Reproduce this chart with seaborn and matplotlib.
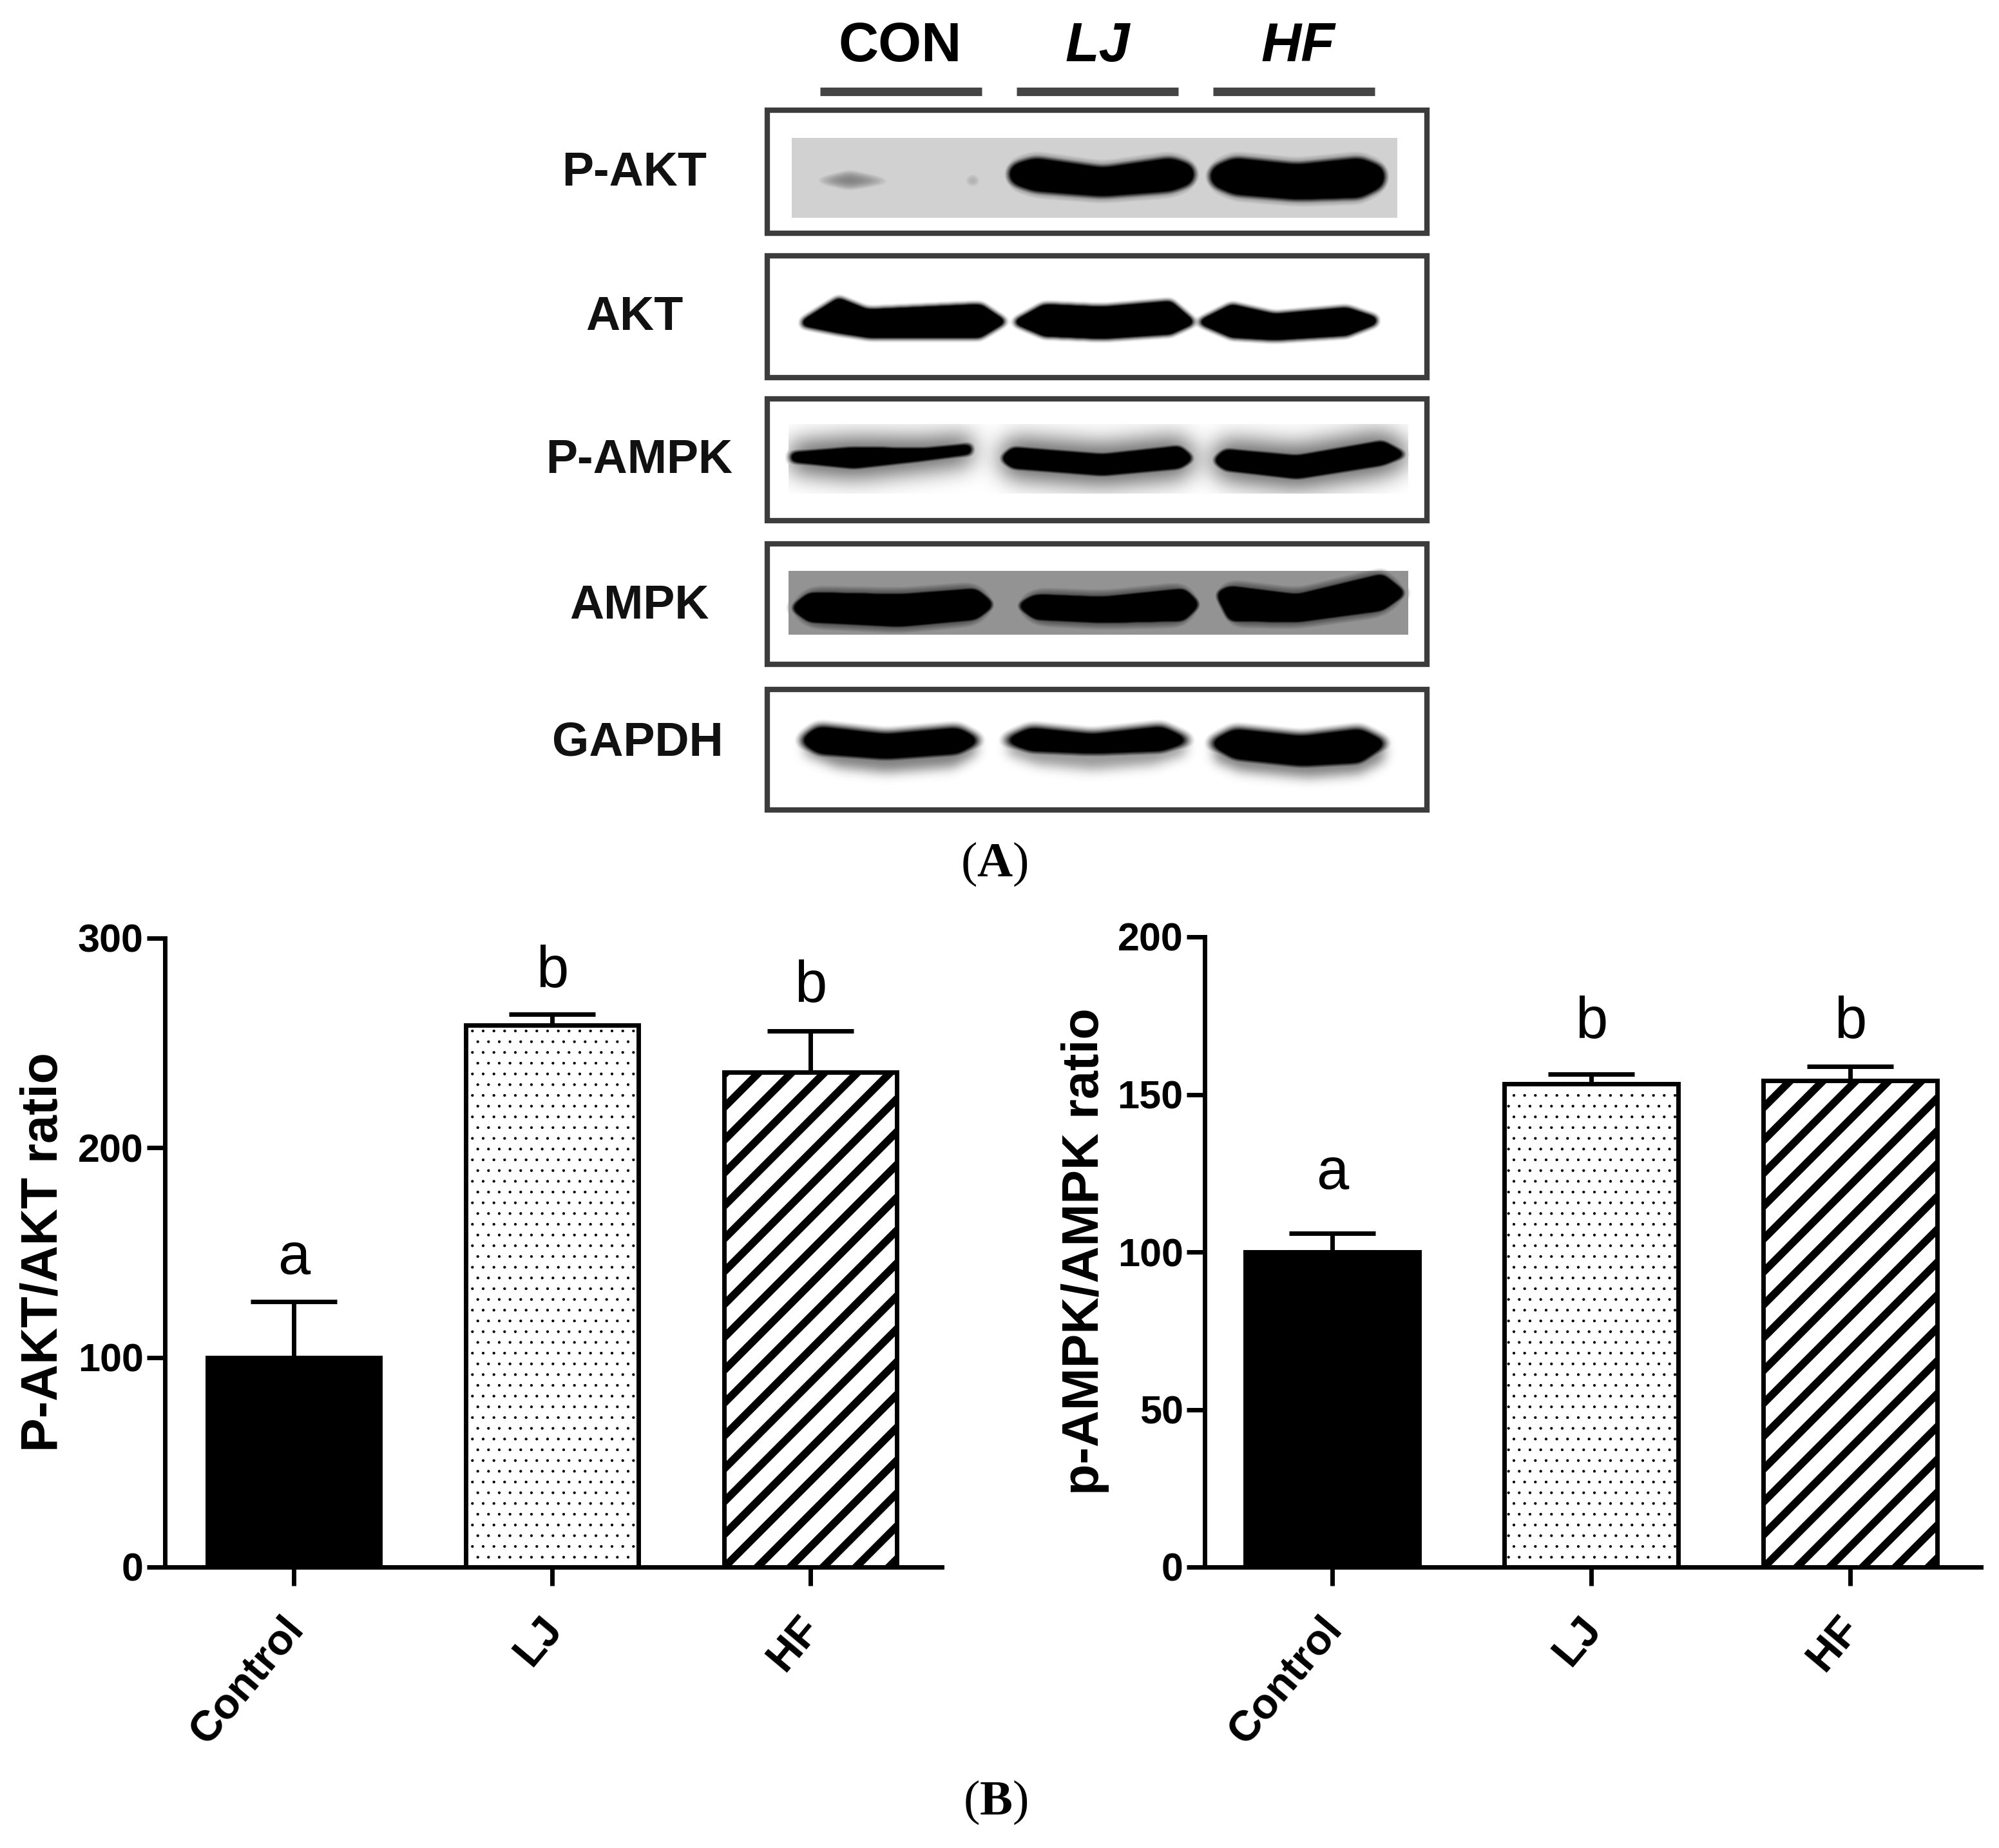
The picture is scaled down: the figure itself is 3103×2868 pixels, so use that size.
import numpy as np
import pandas as pd
import matplotlib
matplotlib.use('Agg')
import matplotlib.pyplot as plt
from matplotlib.patches import Rectangle
from matplotlib.lines import Line2D
from matplotlib.transforms import IdentityTransform, ScaledTranslation
import seaborn as sns

# Data
groups = ['Control', 'LJ', 'HF']
akt_ratio = [100, 258.5, 236]
akt_sem = [26.7, 5.3, 19.8]
ampk_ratio = [100, 153.3, 154.4]
ampk_sem = [6, 3.2, 4.4]
akt_letters = ['a', 'b', 'b']
ampk_letters = ['a', 'b', 'b']
akt_ticks = [0, 100, 200, 300]
ampk_ticks = [0, 50, 100, 150, 200]

# Blot band outlines (x, top, bottom, darkness)
pakt_faint = [
    ([1255, 1318, 1389], [280, 264, 280], [280, 294, 282], 0.42),
    ([1389, 1440, 1494], [280, 278, 278], [280, 284, 284], 0.10),
    ([1494, 1510, 1522], [280, 266, 278], [282, 292, 284], 0.34),
]
pakt_bands = [
    ([1564, 1572, 1606, 1711, 1817, 1848, 1855], [270, 255, 245, 260, 245, 255, 270], [270, 285, 296, 304, 296, 285, 270], 1),
    ([1876, 1884, 1915, 2013, 2111, 2144, 2150], [273, 258, 245, 255, 245, 258, 273], [273, 288, 301, 309, 306, 290, 273], 1),
]
akt_bands = [
    ([1245, 1301, 1346, 1522, 1560], [497, 462, 480, 472, 497], [505, 516, 523, 523, 500], 1),
    ([1575, 1620, 1711, 1817, 1852], [497, 472, 476, 467, 497], [502, 521, 525, 518, 502], 1),
    ([1862, 1911, 1978, 2090, 2136], [497, 472, 487, 477, 492], [502, 523, 527, 520, 502], 1),
]
pampk_bands = [
    ([1227, 1325, 1431, 1508], [702, 694, 696, 689], [716, 726, 714, 704], 1),
    ([1553, 1571, 1711, 1831, 1852], [710, 694, 705, 692, 710], [712, 726, 737, 726, 712], 1),
    ([1883, 1901, 2013, 2146, 2182], [713, 697, 707, 684, 704], [715, 729, 742, 721, 706], 1),
]
ampk_bands = [
    ([1227, 1255, 1396, 1515, 1543], [942, 919, 922, 913, 937], [944, 965, 972, 961, 939], 1),
    ([1578, 1606, 1711, 1838, 1862], [938, 922, 926, 913, 936], [940, 961, 966, 963, 938], 1),
    ([1887, 1908, 2013, 2146, 2182], [919, 909, 922, 890, 919], [921, 963, 965, 947, 921], 1),
]
gapdh_bands = [
    ([1241, 1269, 1375, 1487, 1522], [1148, 1127, 1139, 1129, 1148], [1150, 1169, 1177, 1169, 1150], 1),
    ([1556, 1599, 1696, 1803, 1848], [1148, 1129, 1139, 1127, 1148], [1150, 1165, 1169, 1165, 1150], 1),
    ([1876, 1915, 2020, 2111, 2153], [1152, 1131, 1142, 1131, 1152], [1154, 1177, 1188, 1183, 1154], 1),
]
gapdh_smear = [
    ([1250, 1300, 1375, 1480, 1515], [1150, 1150, 1150, 1150, 1150], [1170, 1190, 1198, 1190, 1170], 0.5),
    ([1565, 1610, 1696, 1790, 1840], [1150, 1150, 1150, 1150, 1150], [1170, 1186, 1194, 1186, 1170], 0.4),
    ([1885, 1925, 2030, 2110, 2148], [1150, 1150, 1150, 1150, 1150], [1180, 1196, 1206, 1200, 1180], 0.5),
]

blot_names = ['P-AKT', 'AKT', 'P-AMPK', 'AMPK', 'GAPDH']
lane_names = ['CON', 'LJ', 'HF']

# Layout, in pixels of the 3103x2868 figure
W, H = 3103, 2868
frames = [(171, 362), (397, 586), (619, 808), (844, 1031), (1070, 1257)]
frame_left, frame_right = 1191, 2215
name_xy = [(985, 268), (985, 493), (992, 715), (992, 941), (990, 1153)]
lane_spans = [(1273, 1524), (1578, 1829), (1883, 2134)]
lane_text_x = [1397, 1704, 2015]
akt_letter_y = [140, 277, 270]
ampk_letter_y = [120, 168, 168]

sns.set_style('ticks')
plt.rcParams['font.family'] = 'Liberation Sans'
plt.rcParams['text.color'] = 'black'
plt.rcParams['axes.edgecolor'] = 'black'
plt.rcParams['xtick.color'] = 'black'
plt.rcParams['ytick.color'] = 'black'
plt.rcParams['hatch.linewidth'] = 0.6
plt.rcParams['mathtext.fontset'] = 'custom'
plt.rcParams['mathtext.rm'] = 'Liberation Serif'
plt.rcParams['mathtext.bf'] = 'Liberation Serif:bold'

fig = plt.figure(figsize=(W / 100, H / 100), dpi=100)
fig.patch.set_facecolor('white')


def blur(img, sigma):
    r = int(sigma * 3)
    k = np.exp(-0.5 * (np.arange(-r, r + 1) / sigma) ** 2)
    k /= k.sum()
    pad = np.pad(img, r, mode='edge')
    pad = np.apply_along_axis(lambda v: np.convolve(v, k, mode='same'), 0, pad)
    pad = np.apply_along_axis(lambda v: np.convolve(v, k, mode='same'), 1, pad)
    return pad[r:-r, r:-r]


# Raster canvas for the blots
x0, x1, y0, y1 = 1200, 2210, 180, 1250
X, Y = np.meshgrid(np.arange(x0, x1), np.arange(y0, y1))


def band_layer(bands, sigma, grow=0):
    layer = np.zeros(X.shape)
    for xs, top, bot, dark in bands:
        t = np.interp(X, xs, np.array(top) - grow)
        b = np.interp(X, xs, np.array(bot) + grow)
        inside = (X >= xs[0]) & (X <= xs[-1]) & (Y >= t) & (Y <= b)
        layer[inside] = dark
    return blur(layer, sigma)


def blob(bands, sigma):
    # blur then steepen, gives the rounded saturated look of the bands
    return np.clip(band_layer(bands, sigma) * 2.0 - 0.1, 0, 1)


def rect_mask(xa, xb, ya, yb):
    return (X >= xa) & (X <= xb) & (Y >= ya) & (Y <= yb)


dark = np.zeros(X.shape)
# P-AKT: flat grey strip
pakt_rect = rect_mask(1229, 2168, 214, 337)
dark[pakt_rect] = 0.18
dark = np.maximum(dark, band_layer(pakt_faint, 7) * 1.2)
dark = np.maximum(dark, band_layer(pakt_bands, 9, grow=8) * 0.6 * pakt_rect)
dark = np.maximum(dark, blob(pakt_bands, 8))
# AKT
dark = np.maximum(dark, blob(akt_bands, 5))
# P-AMPK: soft halo cut to its strip
pampk_rect = rect_mask(1224, 2185, 658, 765)
dark = np.maximum(dark, band_layer(pampk_bands, 18, grow=16) * 0.62 * pampk_rect)
dark = np.maximum(dark, blob(pampk_bands, 6))
# AMPK: dark grey strip with soft halo
ampk_rect = rect_mask(1224, 2185, 886, 984)
dark[ampk_rect] = 0.42
dark = np.maximum(dark, band_layer(ampk_bands, 13, grow=12) * 0.85 * ampk_rect)
dark = np.maximum(dark, blob(ampk_bands, 7))
# GAPDH with its lower smear
dark = np.maximum(dark, band_layer(gapdh_smear, 9))
dark = np.maximum(dark, blob(gapdh_bands, 8))

# Whole figure overlay in pixel coordinates
bg = fig.add_axes([0, 0, 1, 1])
bg.axis('off')
bg.imshow(1 - dark, cmap='gray', vmin=0, vmax=1, extent=(x0, x1, y1, y0), aspect='auto', zorder=1)
bg.set_xlim(0, W)
bg.set_ylim(H, 0)

for (top, bottom), name, (nx, ny) in zip(frames, blot_names, name_xy):
    bg.add_patch(Rectangle((frame_left, top), frame_right - frame_left, bottom - top,
                           fill=False, edgecolor='#3c3c3c', linewidth=6, zorder=3))
    bg.text(nx, ny, name, fontsize=53, fontweight='bold', ha='center', va='center', color='#111111')

for (a, b), name, tx in zip(lane_spans, lane_names, lane_text_x):
    bg.plot([a, b], [142, 142], color='#444444', linewidth=9.5, solid_capstyle='butt', zorder=3)
    style = 'normal' if name == 'CON' else 'italic'
    bg.text(tx, 73, name, fontsize=62, fontweight='bold', fontstyle=style, ha='center', va='center')

bg.text(1543, 1341, r'($\mathbf{A}$)', fontsize=55, family='Liberation Serif', ha='center', va='center')
bg.text(1545, 2797, r'($\mathbf{B}$)', fontsize=55, family='Liberation Serif', ha='center', va='center')


def bar_panel(box, xlim, values, sem, ticks, ymax, ylabel, label_x, letters, letter_y, stripe_shift):
    left, right, top, bottom = box
    ax = fig.add_axes([left / W, 1 - bottom / H, (right - left) / W, (bottom - top) / H])
    ax.patch.set_alpha(0)
    df = pd.DataFrame({'group': groups, 'ratio': values})
    sns.barplot(data=df, x='group', y='ratio', order=groups, color='white', saturation=1,
                edgecolor='black', linewidth=5, width=0.67, ax=ax, zorder=2)
    bars = ax.patches
    bars[0].set_facecolor('black')
    bars[1].set_hatch('.')

    ax.errorbar(range(3), values, yerr=[[0, 0, 0], sem], fmt='none', ecolor='black',
                elinewidth=5, capsize=48, capthick=5, zorder=1)

    ax.set_xlim(*xlim)
    ax.set_ylim(0, ymax)
    ax.set_yticks(ticks)
    ax.tick_params(axis='y', length=20, width=5, pad=4, labelsize=44)
    ax.tick_params(axis='x', length=21, width=5, pad=16, labelsize=48)
    ax.set_xticks(range(3))
    ax.set_xticklabels(groups, rotation=50, ha='right', rotation_mode='anchor', fontweight='bold')
    shift = ScaledTranslation(-0.20, -0.14, fig.dpi_scale_trans)
    for lab in ax.get_xticklabels():
        lab.set_transform(lab.get_transform() + shift)
    for lab in ax.get_yticklabels():
        lab.set_fontweight('bold')
    ax.set_xlabel('')
    ax.set_ylabel('')
    sns.despine(ax=ax)
    ax.spines['left'].set_linewidth(5)
    ax.spines['bottom'].set_linewidth(5)
    ax.spines['left'].set_zorder(5)
    ax.spines['bottom'].set_zorder(5)

    for i, (txt, y) in enumerate(zip(letters, letter_y)):
        ax.text(i, y, txt, fontsize=65, ha='center', va='baseline')

    # Wide diagonal stripes for HF, the built-in hatch is too fine here
    fig.canvas.draw()
    bar = bars[2]
    ext = bar.get_window_extent()
    for c in np.arange(-2000, 2000, 51):
        off = ext.x0 - ext.y0 + c + stripe_shift
        line = Line2D([ext.x0 - 100, ext.x1 + 100], [ext.x0 - 100 - off, ext.x1 + 100 - off],
                      transform=IdentityTransform(), color='black', linewidth=8.6, zorder=2.5,
                      solid_capstyle='butt')
        ax.add_artist(line)
        line.set_clip_path(bar)

    bg.text(label_x, (top + bottom) / 2 - 1, ylabel, fontsize=57, fontweight='bold',
            rotation=90, ha='center', va='center', zorder=4)
    return ax


bar_panel((256, 1462, 1456, 2432), (-0.499, 2.509), akt_ratio, akt_sem, akt_ticks, 300,
          'P-AKT/AKT ratio', 68, akt_letters, akt_letter_y, 12)
bar_panel((1870, 3075, 1454, 2432), (-0.4925, 2.505), ampk_ratio, ampk_sem, ampk_ticks, 200,
          'p-AMPK/AMPK ratio', 1684, ampk_letters, ampk_letter_y, 12)

fig.savefig('out.png', dpi=100)
